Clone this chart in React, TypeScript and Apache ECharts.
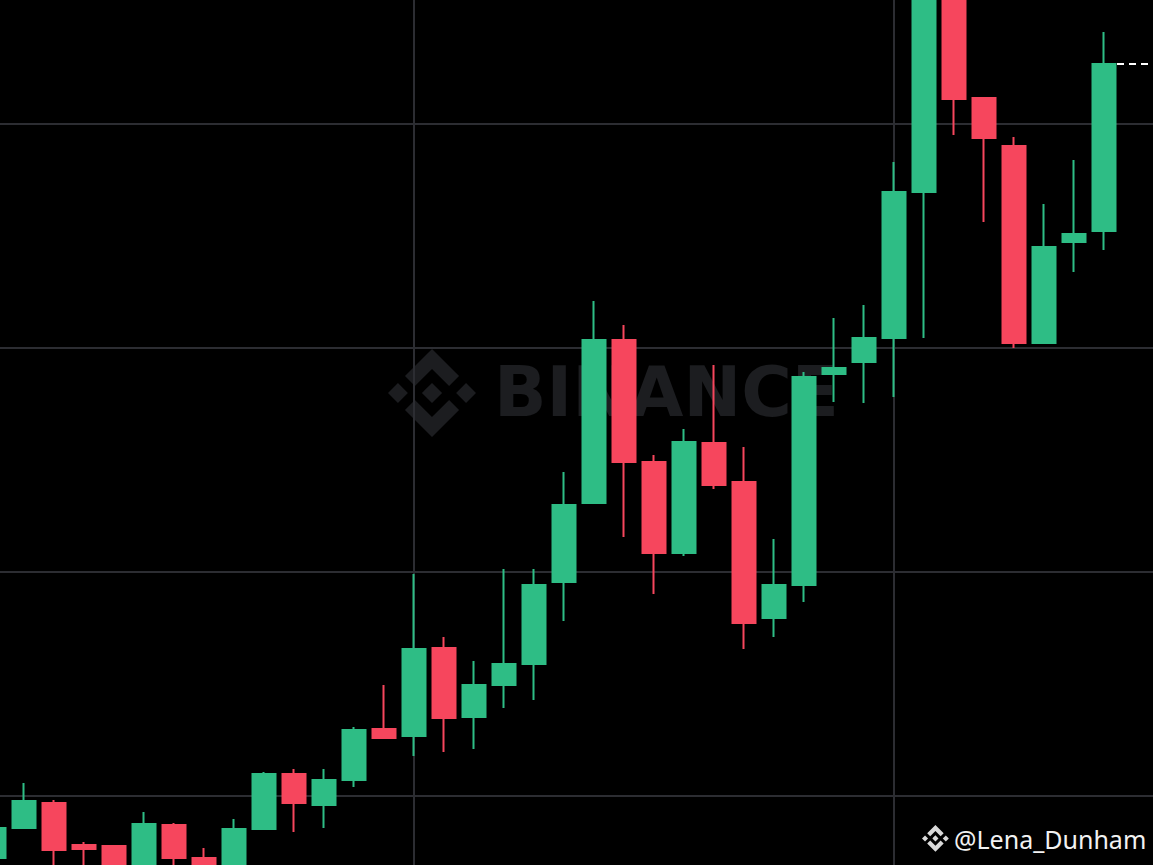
import React, { useEffect, useRef } from "react";
import * as echarts from "echarts";

// Candle values (index 0 is the partially visible candle at the left edge)
const opens = [72.3, 85.7, 96.9, 78.1, 77.7, 63.4, 87.1, 72.3, 63.4, 85.3, 109.8, 96.0, 107.1, 129.9, 126.8, 166.1, 135.3, 149.6, 158.9, 195.5, 230.8, 303.6, 249.1, 208.5, 257.6, 240.2, 179.5, 194.2, 288.4, 293.8, 304.5, 369.6, 464.3, 411.6, 390.2, 302.2, 347.3, 352.2];
const closes = [85.7, 97.8, 75.9, 76.3, 62.5, 87.5, 72.3, 66.1, 85.3, 109.8, 96.9, 107.1, 129.5, 125.9, 165.6, 134.8, 149.6, 158.9, 194.2, 229.9, 303.6, 249.1, 208.5, 258.0, 238.8, 177.2, 194.2, 287.1, 291.1, 304.5, 369.6, 464.3, 411.2, 393.8, 302.2, 345.1, 350.9, 426.8];
const lows = [68.8, 85.3, 66.1, 67.0, 58.0, 60.3, 63.4, 61.6, 59.8, 84.8, 83.9, 85.7, 104.0, 125.4, 117.9, 119.6, 121.0, 139.3, 142.9, 178.1, 230.8, 215.6, 190.2, 207.1, 237.1, 165.6, 171.0, 186.6, 275.9, 275.5, 278.1, 304.5, 395.1, 356.3, 300.0, 302.2, 333.9, 343.8];
const highs = [88.4, 105.8, 98.2, 79.5, 78.1, 92.9, 88.0, 76.8, 89.7, 110.7, 112.1, 112.1, 130.8, 149.6, 199.1, 171.0, 160.3, 201.3, 201.3, 244.6, 321.0, 310.3, 252.2, 263.8, 292.4, 255.8, 214.7, 289.3, 313.4, 319.2, 383.0, 473.2, 473.2, 411.6, 394.2, 364.3, 383.9, 441.1];

// 40 slots: 38 candles followed by empty future slots
const categories = Array.from({ length: 40 }, (_, i) => `D${i + 1}`);
const yTicks = { min: 0, max: 500, interval: 100 };
const verticalGridIndexes = [14, 30];
const watermarkText = "BINANCE";
const authorText = "@Lena_Dunham";

const LOGO_D =
  "M38.73 53.2L63.32 28.62L87.92 53.22L102.22 38.91L63.32 0L24.43 38.88Z" +
  "M0 63.31L14.3 49L28.61 63.31L14.3 77.61Z" +
  "M38.73 73.41L63.32 98L87.92 73.4L102.23 87.69L63.33 126.6L24.42 87.72L24.4 87.7L38.73 73.41Z" +
  "M98 63.31L112.3 49L126.61 63.3L112.3 77.62Z" +
  "M77.83 63.3L63.32 48.78L52.59 59.51L51.35 60.74L48.81 63.28L48.79 63.3L48.81 63.33L63.32 77.83L77.83 63.31Z";

// The chart canvas is larger than the visible window (the view is a crop of a wider chart)
const OFFSET_X = 6;
const OFFSET_Y = 100;

let registered = false;
function ensureShape() {
  if (registered) return;
  echarts.graphic.registerShape("binanceLogo", echarts.graphic.extendPath(LOGO_D, {}) as any);
  registered = true;
}

export default function App() {
  const ref = useRef<HTMLDivElement>(null);

  useEffect(() => {
    document.body.style.margin = "0";
    document.body.style.background = "#000";
    ensureShape();
    const chart = echarts.init(ref.current!, null, { renderer: "svg" });
    const candleData = categories.map((_, i) =>
      i < opens.length ? [opens[i], closes[i], lows[i], highs[i]] : "-"
    );
    const lastClose = closes[closes.length - 1];

    chart.setOption({
      animation: false,
      backgroundColor: "#000000",
      grid: { left: 0, right: 0, top: 0, bottom: 0, containLabel: false },
      xAxis: {
        type: "category",
        data: categories,
        boundaryGap: false,
        axisLine: { show: false },
        axisTick: { show: false },
        axisLabel: { show: false },
        splitLine: {
          show: true,
          interval: (index: number) => verticalGridIndexes.indexOf(index) >= 0,
          lineStyle: { color: "#2c2d32", width: 2 },
        },
      },
      yAxis: {
        type: "value",
        min: yTicks.min,
        max: yTicks.max,
        interval: yTicks.interval,
        axisLine: { show: false },
        axisTick: { show: false },
        axisLabel: { show: false },
        splitLine: { show: true, lineStyle: { color: "#2c2d32", width: 2 } },
      },
      graphic: [
        {
          type: "binanceLogo",
          x: 388 + OFFSET_X,
          y: 349 + OFFSET_Y,
          scaleX: 0.695,
          scaleY: 0.695,
          z: -1,
          silent: true,
          style: { fill: "#1c1d20" },
        },
        {
          type: "text",
          x: 494 + OFFSET_X,
          y: 392 + OFFSET_Y,
          z: -1,
          silent: true,
          style: {
            text: watermarkText,
            fill: "#1c1d20",
            font: "bold 69px 'DejaVu Sans'",
            verticalAlign: "middle",
            align: "left",
          },
        },
        {
          type: "binanceLogo",
          x: 922 + OFFSET_X,
          y: 825 + OFFSET_Y,
          scaleX: 0.212,
          scaleY: 0.212,
          z: 100,
          silent: true,
          style: { fill: "#d9d9d9" },
        },
        {
          type: "text",
          x: 954 + OFFSET_X,
          y: 839 + OFFSET_Y,
          z: 100,
          silent: true,
          style: {
            text: authorText,
            fill: "#f2f2f2",
            font: "25px 'Noto Sans'",
            verticalAlign: "middle",
            align: "left",
          },
        },
      ],
      series: [
        {
          type: "candlestick",
          data: candleData,
          barWidth: 24,
          itemStyle: {
            color: "#2ebd85",
            color0: "#f6465d",
            borderColor: "#2ebd85",
            borderColor0: "#f6465d",
            borderWidth: 2,
          },
          markLine: {
            silent: true,
            symbol: ["none", "none"],
            label: { show: false },
            lineStyle: { color: "#ffffff", type: [7, 5], width: 2 },
            data: [[{ yAxis: lastClose, x: 1117 + OFFSET_X }, { yAxis: lastClose, x: "100%" }]],
          },
        },
      ],
    });
    return () => chart.dispose();
  }, []);

  return (
    <div style={{ position: "relative", width: 1153, height: 865, overflow: "hidden", background: "#000" }}>
      <div
        ref={ref}
        style={{ position: "absolute", left: -OFFSET_X, top: -OFFSET_Y, width: 1170, height: 1120 }}
      />
    </div>
  );
}
